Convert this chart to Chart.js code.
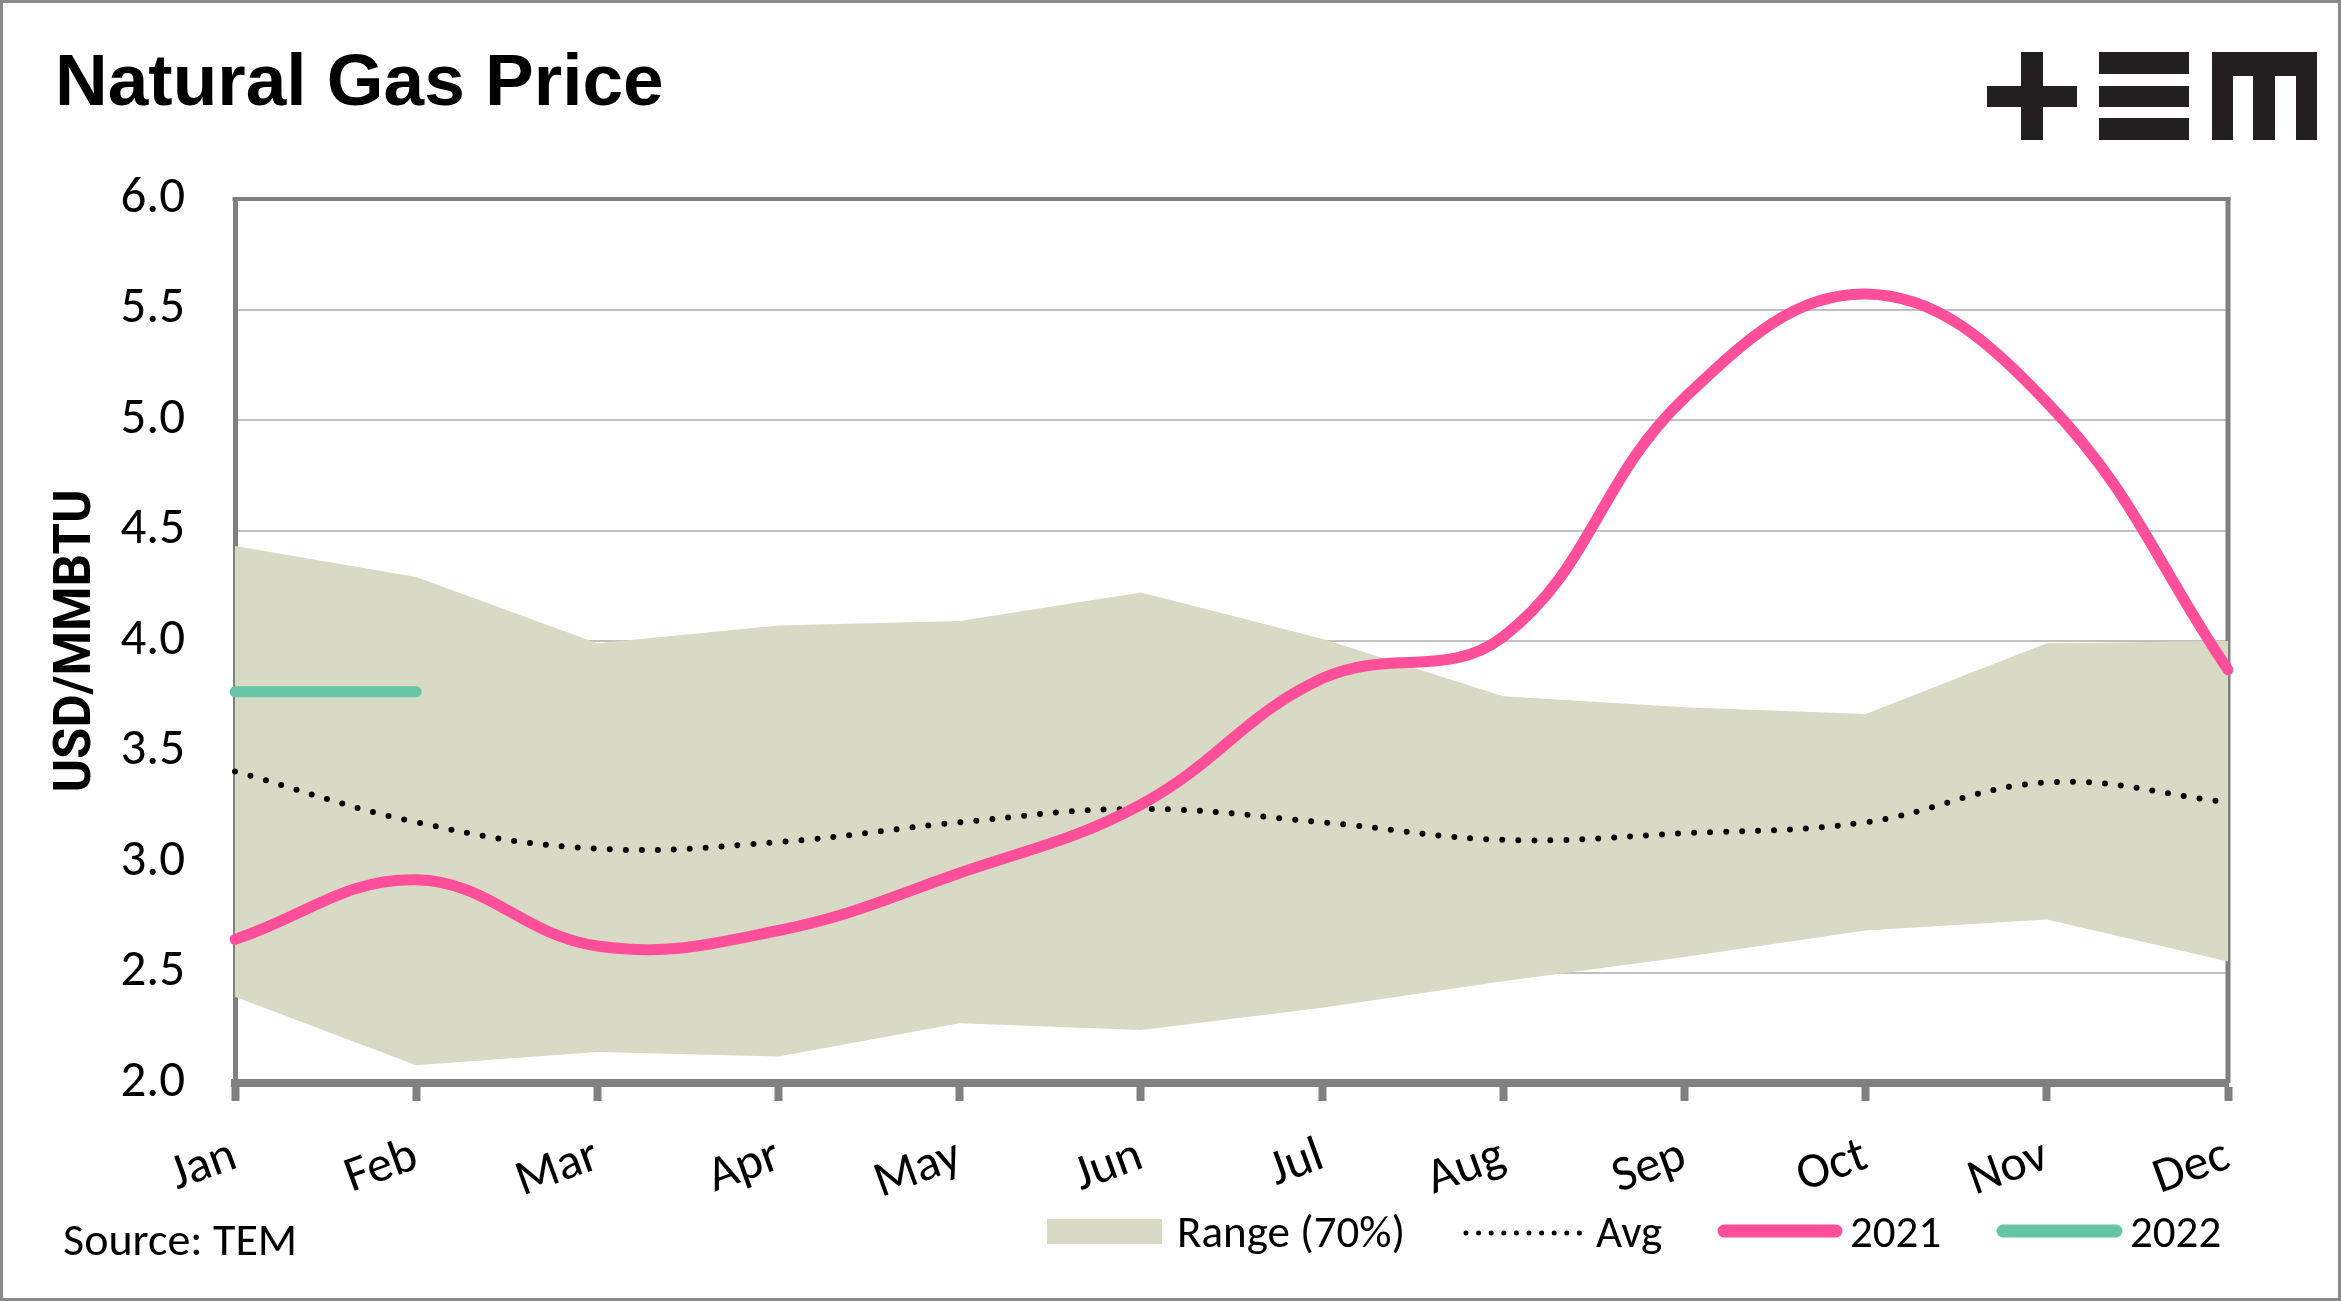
<!DOCTYPE html>
<html><head><meta charset="utf-8">
<script src="https://cdn.jsdelivr.net/npm/chart.js@4.4.1/dist/chart.umd.min.js"></script>
<style>
html,body{margin:0;padding:0;background:#fff;}
#wrap{position:relative;width:2341px;height:1301px;overflow:hidden;background:#fff;}
#frame{position:absolute;left:0;top:0;width:2341px;height:1301px;box-sizing:border-box;border:3px solid #8a8a8a;pointer-events:none;}
.lg{position:absolute;background:#231f20;}
canvas{position:absolute;left:0;top:0;}
</style></head><body>
<div id="wrap">
<canvas id="c" width="2341" height="1301"></canvas>
<div class="lg" style="left:1987px;top:86px;width:90px;height:21px"></div>
<div class="lg" style="left:2021px;top:52px;width:22px;height:88px"></div>
<div class="lg" style="left:2099px;top:52px;width:90px;height:22px"></div>
<div class="lg" style="left:2099px;top:86px;width:90px;height:21px"></div>
<div class="lg" style="left:2099px;top:118px;width:90px;height:22px"></div>
<div class="lg" style="left:2212px;top:52px;width:105px;height:24px"></div>
<div class="lg" style="left:2212px;top:52px;width:21px;height:88px"></div>
<div class="lg" style="left:2253px;top:52px;width:22px;height:88px"></div>
<div class="lg" style="left:2296px;top:52px;width:21px;height:88px"></div>
<div id="frame"></div>
</div>
<script>
const months = ['Jan','Feb','Mar','Apr','May','Jun','Jul','Aug','Sep','Oct','Nov','Dec'];
const rangeLow  = [2.39, 2.08, 2.14, 2.12, 2.27, 2.24, 2.34, 2.46, 2.57, 2.69, 2.74, 2.55];
const rangeHigh = [4.43, 4.29, 3.99, 4.07, 4.09, 4.22, 4.01, 3.75, 3.70, 3.67, 3.99, 4.00];
const avgVals   = [3.41, 3.18, 3.06, 3.09, 3.18, 3.24, 3.18, 3.10, 3.13, 3.18, 3.36, 3.27];
const vals2021  = [2.65, 2.92, 2.62, 2.69, 2.95, 3.26, 3.83, 4.02, 5.10, 5.57, 5.08, 3.87];
const vals2022  = [3.77, 3.77, null, null, null, null, null, null, null, null, null, null];
const yMin = 2.0, yMax = 6.0, yStep = 0.5;
const titleText = 'Natural Gas Price';
const yTitle = 'USD/MMBTU';
const sourceText = 'Source: TEM';
const legendLabels = ['Range (70%)', 'Avg', '2021', '2022'];

const PINK = '#ff4f9b', TEAL = '#66c5a6', RANGE = '#d9dac5', AX = '#808080';
const BODY = 'Carlito, Lato, sans-serif';

const deco = {
  id: 'deco',
  beforeDatasetsDraw(chart) {
    const {ctx, chartArea: a} = chart;
    ctx.save();
    ctx.strokeStyle = AX;
    ctx.lineWidth = 4;
    ctx.beginPath(); ctx.moveTo(a.left - 2.5, a.top); ctx.lineTo(a.right + 2.5, a.top); ctx.stroke();
    ctx.lineWidth = 5;
    ctx.beginPath(); ctx.moveTo(a.right, a.top - 2); ctx.lineTo(a.right, a.bottom); ctx.stroke();
    ctx.restore();
  },
  afterDraw(chart) {
    const ctx = chart.ctx;
    ctx.save();
    ctx.fillStyle = '#000';
    ctx.textBaseline = 'alphabetic';
    ctx.textAlign = 'left';
    // title
    ctx.font = 'bold 73px "Liberation Sans", Arial, sans-serif';
    ctx.fillText(titleText, 55, 105);
    // y title
    ctx.save();
    ctx.translate(90, 641);
    ctx.rotate(-Math.PI / 2);
    ctx.font = 'bold 52px Roboto, sans-serif';
    const w = ctx.measureText(yTitle).width;
    ctx.scale(303 / w, 1);
    ctx.textAlign = 'center';
    ctx.fillText(yTitle, 0, 0);
    ctx.restore();
    // source
    ctx.font = '46px ' + BODY;
    ctx.fillText(sourceText, 63, 1255);
    // legend
    ctx.font = '45px ' + BODY;
    const by = 1247;
    ctx.fillStyle = RANGE;
    ctx.fillRect(1047, 1219, 115, 25);
    ctx.fillStyle = '#000';
    ctx.fillText(legendLabels[0], 1177, by);
    ctx.strokeStyle = '#000';
    ctx.lineWidth = 5; ctx.lineCap = 'round'; ctx.setLineDash([0, 12.6]);
    ctx.beginPath(); ctx.moveTo(1466, 1233); ctx.lineTo(1580, 1233); ctx.stroke();
    ctx.setLineDash([]);
    ctx.fillText(legendLabels[1], 1596, by);
    ctx.lineWidth = 13;
    ctx.strokeStyle = PINK;
    ctx.beginPath(); ctx.moveTo(1724, 1231); ctx.lineTo(1836, 1231); ctx.stroke();
    ctx.fillText(legendLabels[2], 1850, by);
    ctx.strokeStyle = TEAL;
    ctx.beginPath(); ctx.moveTo(2003, 1231); ctx.lineTo(2116, 1231); ctx.stroke();
    ctx.fillText(legendLabels[3], 2130, by);
    ctx.restore();
  }
};

Chart.defaults.font.family = BODY;
Chart.defaults.color = '#000';

new Chart(document.getElementById('c'), {
  type: 'line',
  data: {
    labels: months,
    datasets: [
      { label: '2022', data: vals2022, borderColor: TEAL, borderWidth: 11, borderCapStyle: 'round', pointRadius: 0, tension: 0.4, fill: false, order: 1 },
      { label: '2021', data: vals2021, borderColor: PINK, borderWidth: 11, borderCapStyle: 'round', pointRadius: 0, tension: 0.4, fill: false, order: 2 },
      { label: 'Avg', data: avgVals, borderColor: '#000', borderWidth: 6, borderCapStyle: 'round', borderDash: [0, 16], pointRadius: 0, tension: 0.4, fill: false, order: 3 },
      { label: 'Range low', data: rangeLow, borderWidth: 0, borderColor: 'rgba(0,0,0,0)', pointRadius: 0, tension: 0, fill: false, order: 10 },
      { label: 'Range (70%)', data: rangeHigh, borderWidth: 0, borderColor: 'rgba(0,0,0,0)', backgroundColor: RANGE, pointRadius: 0, tension: 0, fill: '-1', order: 9 }
    ]
  },
  options: {
    responsive: false,
    devicePixelRatio: 1,
    animation: false,
    layout: { padding: { top: 199, right: 113, left: 0, bottom: 0 } },
    plugins: { legend: { display: false }, title: { display: false }, tooltip: { enabled: false } },
    scales: {
      x: {
        afterFit(s) { s.height = 218; },
        grid: { drawOnChartArea: false, drawTicks: true, tickLength: 18, tickWidth: 8, tickColor: AX },
        border: { display: true, width: 8, color: AX },
        ticks: { autoSkip: false, maxRotation: 20, minRotation: 20, padding: 26, font: { size: 50 }, color: '#000' }
      },
      y: {
        min: yMin, max: yMax,
        afterFit(s) { s.width = 235; },
        grid: { color: '#c0c0c0', lineWidth: 2, drawTicks: false },
        border: { display: true, width: 5, color: AX },
        ticks: { stepSize: yStep, padding: 50, font: { size: 51 }, color: '#000', callback: v => Number(v).toFixed(1) }
      }
    }
  },
  plugins: [deco]
});
</script>
</body></html>
